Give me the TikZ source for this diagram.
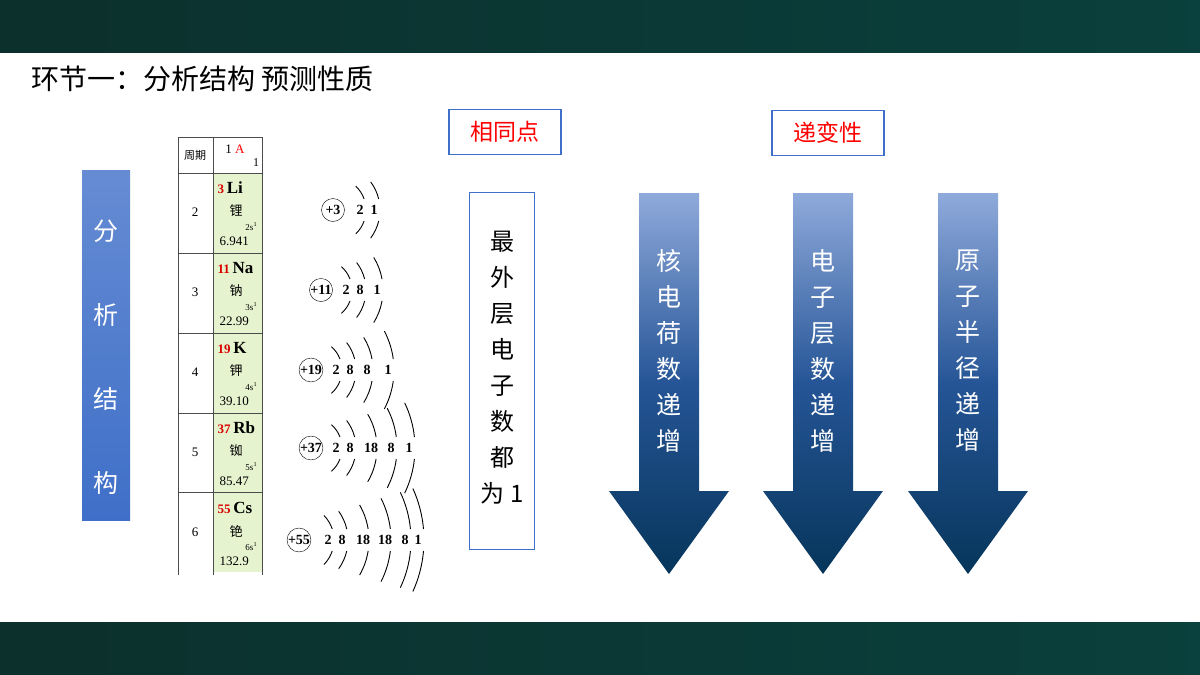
\documentclass[tikz,border=0pt]{standalone}
\usepackage{fontspec}
\setmainfont{Liberation Serif}
\newfontfamily\cjk{Noto Sans CJK SC}
\usetikzlibrary{positioning}
\definecolor{barteal}{HTML}{0C302C}
\definecolor{boxblue}{HTML}{3F6FC8}
\definecolor{cellgreen}{HTML}{E6F3CF}
\definecolor{navy}{HTML}{06355A}
\definecolor{lightnavy}{HTML}{8FAADB}
\tikzset{
  tag/.style={draw=boxblue,line width=1.2pt,fill=white,minimum width=112pt,minimum height=45pt,text=red,font=\cjk\fontsize{23}{24}\selectfont},
  vtext/.style={text=white,align=center,font=\cjk\fontsize{25}{36}\selectfont},
  cell/.style={draw=black!70,line width=0.8pt},
  elem/.style={font=\bfseries\fontsize{17}{18}\selectfont},
  shell/.style={line width=0.9pt},
  num/.style={font=\bfseries\fontsize{14}{14}\selectfont},
}
\newcommand{\trendarrow}[3]{% x center, name, text
  \shade[top color=lightnavy,bottom color=navy,middle color=boxblue!55!navy]
    (#1-30,193) -- (#1+30,193) -- (#1+30,491) -- (#1+60,491) -- (#1,574) -- (#1-60,491) -- (#1-30,491) -- cycle;
  \node[vtext,anchor=north] (#2) at (#1,246) {#3};
}
\begin{document}
\begin{tikzpicture}[x=1pt,y=-1pt]
\useasboundingbox (0,0) rectangle (1200,675);
\fill[white] (0,0) rectangle (1200,675);
% bars
\shade[left color=barteal,right color=barteal!80!teal] (0,0) rectangle (1200,52);
\shade[left color=barteal,right color=barteal!80!teal] (0,622) rectangle (1200,675);
\node[anchor=west,font=\cjk\fontsize{28}{30}\selectfont] (title) at (28,79) {环节一：分析结构\ 预测性质};
% left box
\shade[top color=boxblue!80,bottom color=boxblue] (82,170) rectangle (130,520);
\node[vtext,font=\cjk\fontsize{25}{84}\selectfont] (fenxi) at (106,357) {分\\析\\结\\构};
% table
\fill[cellgreen] (213,173) rectangle (262,572);
\foreach \y in {137,173,253,333,413,492} \draw[cell] (178,\y) -- (262,\y);
\draw[cell] (178,137) -- (178,575) (213,137) -- (213,575) (262,137) -- (262,575);
\node[font=\cjk\fontsize{11}{12}\selectfont] (zq) at (195,155) {周期};
\node[font=\fontsize{13}{14}\selectfont] (ia) at (235,149) {1 \textcolor{red}{A}};
\node[font=\fontsize{12}{12}\selectfont] (ib) at (256,163) {1};
\foreach \n/\z/\s/\c/\m/\p [count=\i] in {2/3/Li/锂/6.941/2s,3/11/Na/钠/22.99/3s,4/19/K/钾/39.10/4s,5/37/Rb/铷/85.47/5s,6/55/Cs/铯/132.9/6s}{
  \pgfmathsetmacro{\yt}{173+80*(\i-1)}
  \node[font=\fontsize{13}{14}\selectfont] (per\i) at (195,\yt+39) {\n};
  \node[elem,anchor=west] (el\i) at (214,\yt+15) {\textcolor{red!85!black}{\fontsize{13}{14}\selectfont\z}\,\s};
  \node[font=\cjk\fontsize{13}{14}\selectfont,anchor=west] (cn\i) at (226,\yt+38) {\c};
  \node[font=\fontsize{9}{9}\selectfont,anchor=east] (cf\i) at (261,\yt+54) {\p$^{1}$};
  \node[font=\fontsize{13}{14}\selectfont,anchor=west] (ma\i) at (216,\yt+68) {\m};
}
% atoms
\foreach \x/\y/\q/\shells in {333/210/+3/{27/2,41/1},
    321/290/+11/{25/2,39/8,56/1},
    311/370/+19/{25/2,39/8,56/8,77/1},
    311/448/+37/{25/2,39/8,60/18,80/8,98/1},
    299/540/+55/{29/2,43/8,64/18,86/18,106/8,119/1}}{
  \node[draw,circle,inner sep=0pt,minimum size=23pt,num] (nuc\q) at (\x,\y) {\q};
  \foreach \d/\e in \shells {
    \node[num] at (\x+\d,\y) {\e};
    \pgfmathsetmacro{\r}{\d+6}
    \pgfmathsetmacro{\aa}{asin(11/\r)}
    \pgfmathsetmacro{\ab}{asin(min(0.85,(14+0.3*\r)/\r))}
    \draw[shell] (\x,\y) ++(\aa:\r) arc (\aa:\ab:\r);
    \draw[shell] (\x,\y) ++(-\aa:\r) arc (-\aa:-\ab:\r);
  }
}
% same point
\node[tag] (same) at (505,132) {相同点};
\node[draw=boxblue,line width=1.2pt,minimum width=65pt,minimum height=357pt] (frame) at (502,371) {};
\node[align=center,font=\cjk\fontsize{24}{36}\selectfont] (outer) at (502,368) {最\\外\\层\\电\\子\\数\\都\\为 1};
% gradual change
\node[tag] (trend) at (828,133) {递变性};
\trendarrow{669}{charge}{核\\电\\荷\\数\\递\\增}
\trendarrow{823}{layer}{电\\子\\层\\数\\递\\增}
\trendarrow{968}{radius}{原\\子\\半\\径\\递\\增}
\end{tikzpicture}
\end{document}
